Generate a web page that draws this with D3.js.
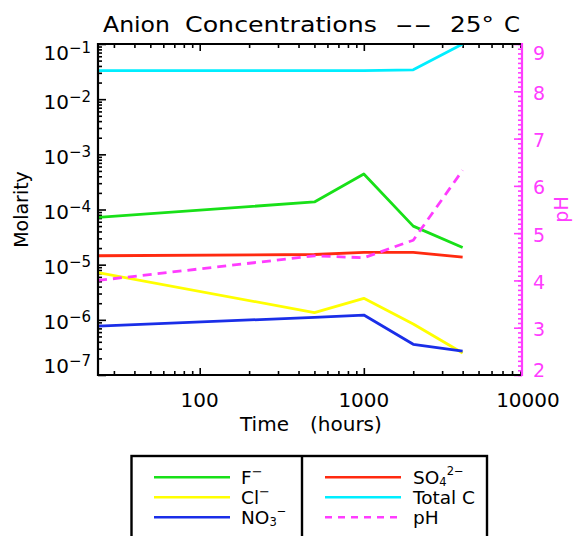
<!DOCTYPE html>
<html><head><meta charset="utf-8">
<script src="https://cdn.jsdelivr.net/npm/d3@7"></script>
<style>html,body{margin:0;padding:0;background:#fff;} svg{display:block;font-family:"DejaVu Sans",sans-serif;}</style>
</head><body><svg id="c" width="574" height="536"></svg>
<script>
// ---- data ----
const hours     = [24, 500, 1000, 2000, 4000];
const fluoride  = [7.2e-5, 1.37e-4, 4.4e-4, 5.0e-5, 2.05e-5];
const chloride  = [7.2e-6, 1.35e-6, 2.45e-6, 8.4e-7, 2.5e-7];
const nitrate   = [7.7e-7, 1.11e-6, 1.22e-6, 3.6e-7, 2.7e-7];
const sulfate   = [1.45e-5, 1.53e-5, 1.67e-5, 1.67e-5, 1.37e-5];
const totalC    = [0.0328, 0.0328, 0.0330, 0.0340, 0.1];
const pH        = [4.0, 4.52, 4.48, 4.85, 6.33];

const yExponents  = [-1, -2, -3, -4, -5, -6, -7];
const phTicks     = [2, 3, 4, 5, 6, 7, 8, 9];
const xTickLabels = [100, 1000, 10000];
const xDomain  = [24, 9200];
const yDomain  = [1e-7, 1e-1];
const phDomain = [2, 9];

const titleWords = [["Anion",103,67],["Concentrations",185,192],["--",395,37],["25°",450,44],["C",504,16]];

// ---- layout ----
const L = 98, R = 522, T = 44, B = 375;
const PINK = "#ff3cff";
const svg = d3.select("#c");
const x  = d3.scaleLog().domain(xDomain).range([L, R]);
const y  = d3.scaleLog().domain(yDomain).range([B, T]);
const yp = d3.scaleLinear().domain(phDomain).range([B, T]);

const isPow10 = v => Math.abs(Math.log10(v) - Math.round(Math.log10(v))) < 1e-9;

svg.append("defs").append("clipPath").attr("id","clip")
  .append("rect").attr("x",L).attr("y",T).attr("width",R-L).attr("height",B-T);

// ---- ticks ----
const xt = x.ticks();
const xMajor = xt.filter(isPow10), xMinor = xt.filter(v => !isPow10(v));
const yt = y.ticks();
const yMajor = yt.filter(isPow10), yMinor = yt.filter(v => !isPow10(v));
const pMinor = yp.ticks(70);

function drawAxis(gen, vals, size, tx, ty, color) {
  const g = svg.append("g").attr("transform", `translate(${tx},${ty})`)
    .call(gen.tickValues(vals).tickSize(size).tickSizeOuter(0).tickFormat(""));
  g.select(".domain").remove();
  g.selectAll(".tick line").attr("stroke", color).attr("stroke-width", 1.6);
}
drawAxis(d3.axisTop(x), xMinor, 4, 0, B, "#000");
drawAxis(d3.axisTop(x), xMajor, 7, 0, B, "#000");
drawAxis(d3.axisBottom(x), xMinor, 4, 0, T, "#000");
drawAxis(d3.axisBottom(x), xMajor, 7, 0, T, "#000");
drawAxis(d3.axisRight(y), yMinor, 4, L, 0, "#000");
drawAxis(d3.axisRight(y), yMajor, 8, L, 0, "#000");
drawAxis(d3.axisLeft(yp), pMinor, 4, R, 0, PINK);
drawAxis(d3.axisLeft(yp), phTicks, 8, R, 0, PINK);

// ---- data lines ----
const series = [
  {values: totalC,   color: "#00eeff", axis: y},
  {values: fluoride, color: "#18e018", axis: y},
  {values: sulfate,  color: "#ff2a10", axis: y},
  {values: chloride, color: "#ffff00", axis: y},
  {values: nitrate,  color: "#1a2ee8", axis: y},
  {values: pH,       color: PINK,      axis: yp, dash: "9,6"}
];
const gLines = svg.append("g").attr("clip-path","url(#clip)");
series.forEach(s => {
  const line = d3.line().x((d,i) => x(hours[i])).y(d => s.axis(d));
  gLines.append("path").datum(s.values).attr("d", line)
    .attr("fill","none").attr("stroke", s.color).attr("stroke-width", 2.8)
    .attr("stroke-dasharray", s.dash || null).attr("stroke-linejoin","round");
});

// ---- frame ----
svg.append("path").attr("d", `M${R},${T}H${L}V${B}H${R}`)
  .attr("fill","none").attr("stroke","#000").attr("stroke-width",2.2);
svg.append("line").attr("x1",R).attr("x2",R).attr("y1",T-1).attr("y2",B+1)
  .attr("stroke",PINK).attr("stroke-width",2.2);

// ---- tick labels ----
yExponents.forEach(e => {
  const ty = y(Math.pow(10, e));
  const base = Math.max(60, Math.min(373, ty + 9.5));
  const t = svg.append("text").attr("x", 91).attr("y", base)
    .attr("text-anchor","end").attr("font-size",20).attr("fill","#000");
  t.append("tspan").text("10");
  t.append("tspan").attr("dy",-7).attr("font-size",15).text("\u2212" + Math.abs(e));
});
phTicks.forEach(p => {
  const base = Math.max(60, Math.min(377, yp(p) + 8.5));
  svg.append("text").attr("x",533).attr("y",base).attr("font-size",19)
    .attr("fill",PINK).text(p);
});
xTickLabels.forEach(v => {
  svg.append("text").attr("x", x(v)).attr("y", 406.5).attr("text-anchor","middle")
    .attr("font-size",20).attr("fill","#000").text(v);
});

// ---- titles ----
titleWords.forEach(([w, wx, wl]) => {
  svg.append("text").attr("x",wx).attr("y",32).attr("font-size",22)
    .attr("textLength",wl).attr("lengthAdjust","spacingAndGlyphs").text(w);
});
svg.append("text").attr("x",240).attr("y",431).attr("font-size",20).text("Time");
svg.append("text").attr("x",310).attr("y",431).attr("font-size",20).text("(hours)");
svg.append("text").attr("transform",`translate(28,${(T+B)/2}) rotate(-90)`)
  .attr("text-anchor","middle").attr("font-size",19).text("Molarity");
svg.append("text").attr("transform",`translate(568,${(T+B)/2}) rotate(-90)`)
  .attr("text-anchor","middle").attr("font-size",19).attr("fill",PINK).text("pH");

// ---- legend ----
const LG = {x0: 131.5, x1: 487, y0: 456, mid: 302};
svg.append("rect").attr("x",LG.x0).attr("y",LG.y0).attr("width",LG.x1-LG.x0).attr("height",100)
  .attr("fill","none").attr("stroke","#000").attr("stroke-width",2.4);
svg.append("line").attr("x1",LG.mid).attr("x2",LG.mid).attr("y1",LG.y0).attr("y2",540)
  .attr("stroke","#000").attr("stroke-width",2.4);

const legendItems = [
  {col:0,row:0,color:"#18e018",parts:[["F",""],["\u2212","sup"]]},
  {col:0,row:1,color:"#ffff00",parts:[["Cl",""],["\u2212","sup"]]},
  {col:0,row:2,color:"#1a2ee8",parts:[["NO",""],["3","sub"],["\u2212","subsup"]]},
  {col:1,row:0,color:"#ff2a10",parts:[["SO",""],["4","sub"],["2\u2212","subsup"]]},
  {col:1,row:1,color:"#00eeff",parts:[["Total C",""]]},
  {col:1,row:2,color:PINK,dash:"7,6",parts:[["pH",""]]}
];
legendItems.forEach(it => {
  const ly = 477.3 + it.row*20;
  const lx0 = it.col ? 325 : 154, lx1 = it.col ? 401 : 230, tx = it.col ? 413 : 241;
  svg.append("line").attr("x1",lx0).attr("x2",lx1).attr("y1",ly).attr("y2",ly)
    .attr("stroke",it.color).attr("stroke-width",2.6).attr("stroke-dasharray",it.dash||null);
  const t = svg.append("text").attr("x",tx).attr("y",ly+6.5).attr("font-size",18.5);
  it.parts.forEach(([s,k]) => {
    const ts = t.append("tspan").text(s);
    if (k==="sup") ts.attr("dy",-8).attr("font-size",13);
    if (k==="sub") ts.attr("dy",2.5).attr("font-size",11.5);
    if (k==="subsup") ts.attr("dy",-11).attr("font-size",11.5);
  });
});
</script></body></html>
